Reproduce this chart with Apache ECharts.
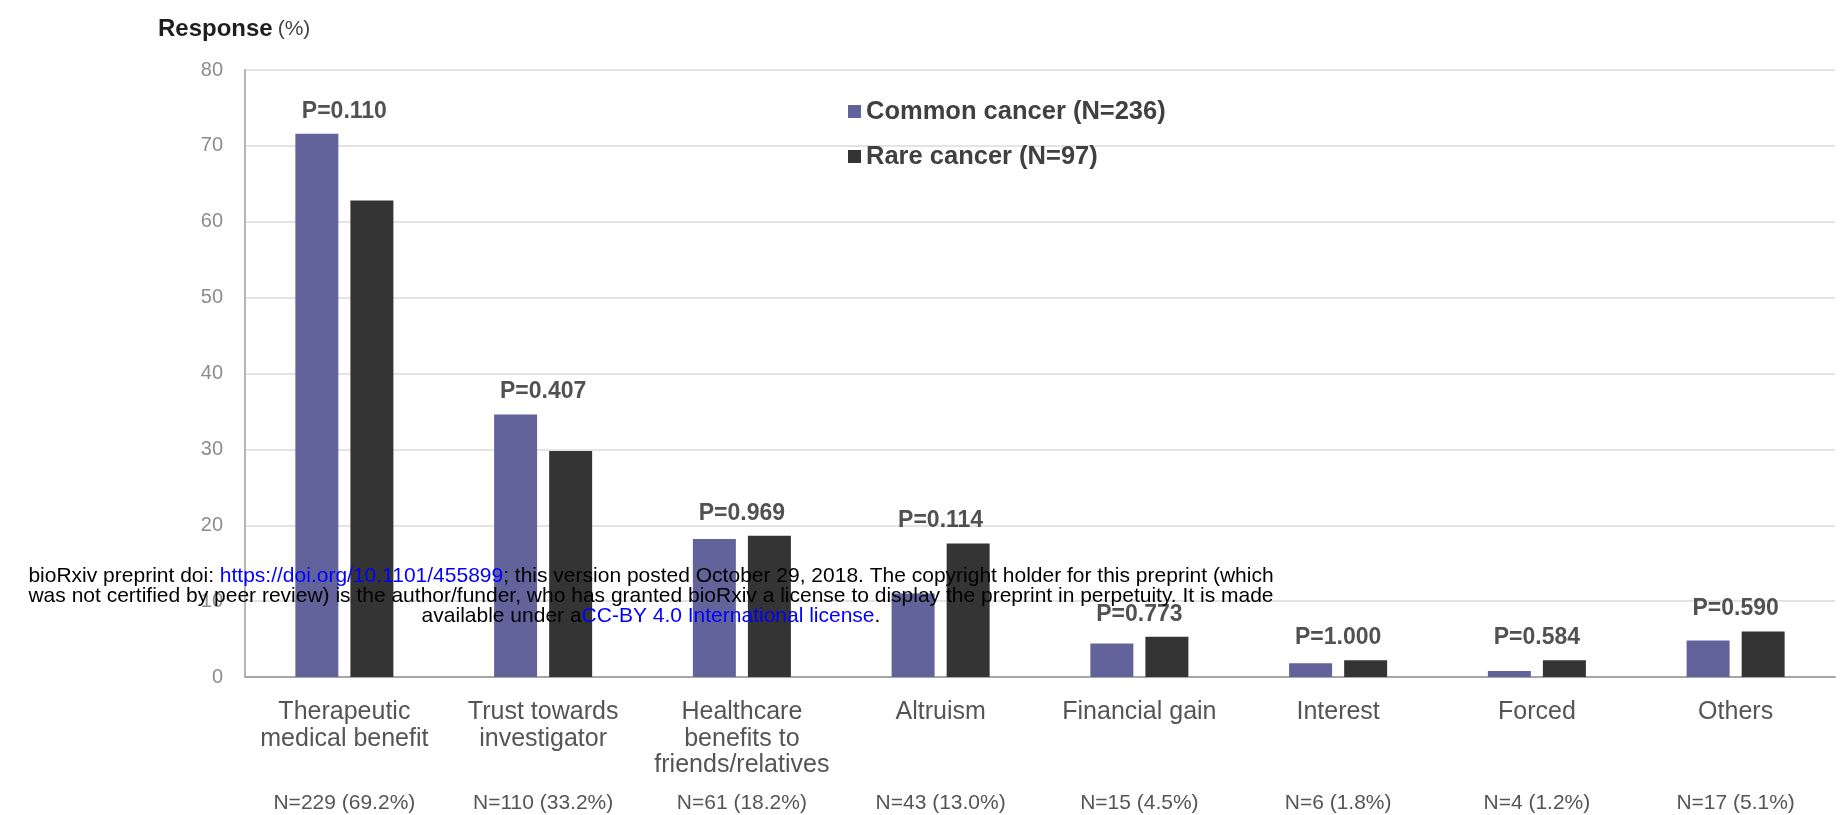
<!DOCTYPE html>
<html>
<head>
<meta charset="utf-8">
<title>Response</title>
<script src="https://cdn.jsdelivr.net/npm/echarts@6/dist/echarts.min.js"></script>
<style>
  html, body { margin: 0; padding: 0; background: #fff; }
  #chart { width: 1841px; height: 815px; }
</style>
</head>
<body>
<div id="chart"></div>
<script>
// reasons for taking part, % of each group
var categories = [
  "Therapeutic\nmedical benefit",
  "Trust towards\ninvestigator",
  "Healthcare\nbenefits to\nfriends/relatives",
  "Altruism",
  "Financial gain",
  "Interest",
  "Forced",
  "Others",
];
var nLabels = [
  "N=229 (69.2%)",
  "N=110 (33.2%)",
  "N=61 (18.2%)",
  "N=43 (13.0%)",
  "N=15 (4.5%)",
  "N=6 (1.8%)",
  "N=4 (1.2%)",
  "N=17 (5.1%)",
];
var commonCancer = [71.6, 34.6, 18.2, 11.0, 4.4, 1.8, 0.8, 4.8];
var rareCancer = [62.8, 29.8, 18.6, 17.6, 5.3, 2.2, 2.2, 6.0];
var pValues = ["P=0.110", "P=0.407", "P=0.969", "P=0.114", "P=0.773", "P=1.000", "P=0.584", "P=0.590"];
var seriesNames = ["Common cancer (N=236)", "Rare cancer (N=97)"];
var yTicks = { min: 0, max: 80, interval: 10 };

var font = "Liberation Sans, Arial, sans-serif";
var myChart = echarts.init(document.getElementById("chart"));

// P labels sit above the taller bar of each pair
var pairTop = commonCancer.map(function (v, i) {
  return Math.max(v, rareCancer[i]);
});

var option = {
  backgroundColor: "#fff",
  animation: false,
  title: {
    left: 153,
    top: 12,
    text: "{b|Response} {n|(%)}",
    textStyle: {
      rich: {
        b: { fontFamily: font, fontSize: 24, fontWeight: "bold", color: "#1e1e1e" },
        n: { fontFamily: font, fontSize: 21, fontWeight: "normal", color: "#444" },
      },
    },
  },
  legend: {
    orient: "vertical",
    left: 843,
    top: 93,
    itemWidth: 13,
    itemHeight: 13,
    itemGap: 18,
    icon: "rect",
    data: seriesNames,
    textStyle: {
      fontFamily: font,
      fontSize: 25.5,
      fontWeight: "bold",
      lineHeight: 27,
      color: "#404040",
    },
  },
  grid: {
    left: 245,
    right: 6,
    top: 70,
    bottom: 138,
    outerBoundsMode: "none",
  },
  xAxis: [
    {
      type: "category",
      data: categories,
      axisTick: { show: false },
      axisLine: { lineStyle: { color: "#a6a6a6", width: 2 } },
      axisLabel: {
        interval: 0,
        margin: 22,
        fontFamily: font,
        fontSize: 25,
        lineHeight: 26.5,
        color: "#555",
      },
    },
    {
      type: "category",
      position: "bottom",
      offset: 106,
      data: nLabels,
      axisTick: { show: false },
      axisLine: { show: false },
      axisLabel: {
        interval: 0,
        margin: 10,
        fontFamily: font,
        fontSize: 21,
        lineHeight: 21,
        color: "#555",
      },
    },
  ],
  yAxis: {
    type: "value",
    min: yTicks.min,
    max: yTicks.max,
    interval: yTicks.interval,
    axisTick: { show: false },
    axisLine: { show: true, lineStyle: { color: "#b5b5b5", width: 2 } },
    axisLabel: {
      margin: 22,
      fontFamily: font,
      fontSize: 20,
      color: "#8c8c8c",
    },
    splitLine: { lineStyle: { color: "#e4e4e4", width: 2 } },
  },
  series: [
    {
      name: seriesNames[0],
      type: "bar",
      xAxisIndex: 0,
      barWidth: 43,
      barGap: "28%",
      itemStyle: { color: "#62639b" },
      data: commonCancer,
    },
    {
      name: seriesNames[1],
      type: "bar",
      xAxisIndex: 0,
      barWidth: 43,
      itemStyle: { color: "#343434" },
      data: rareCancer,
    },
    {
      name: "p",
      type: "scatter",
      xAxisIndex: 0,
      symbolSize: 0,
      silent: true,
      data: pairTop,
      label: {
        show: true,
        position: "top",
        distance: 11,
        formatter: function (p) {
          return pValues[p.dataIndex];
        },
        fontFamily: font,
        fontSize: 23,
        fontWeight: "bold",
        color: "#262626",
      },
    },
  ],
  graphic: [
    {
      // preprint notice stamped over the figure
      type: "text",
      z: 100,
      x: 651,
      y: 566,
      style: {
        text:
          "{a|bioRxiv preprint doi: }{l|https://doi.org/10.1101/455899}{a|; this version posted October 29, 2018. The copyright holder for this preprint (which}\n" +
          "{a|was not certified by peer review) is the author/funder, who has granted bioRxiv a license to display the preprint in perpetuity. It is made}\n" +
          "{a|available under a}{l|CC-BY 4.0 International license}{a|.}",
        align: "center",
        verticalAlign: "top",
        rich: {
          a: { fontFamily: font, fontSize: 21, lineHeight: 20, fill: "#000" },
          l: { fontFamily: font, fontSize: 21, lineHeight: 20, fill: "#0000ff" },
        },
      },
    },
  ],
};

myChart.setOption(option);
window.onresize = function () {
  myChart.resize();
};
</script>
</body>
</html>
